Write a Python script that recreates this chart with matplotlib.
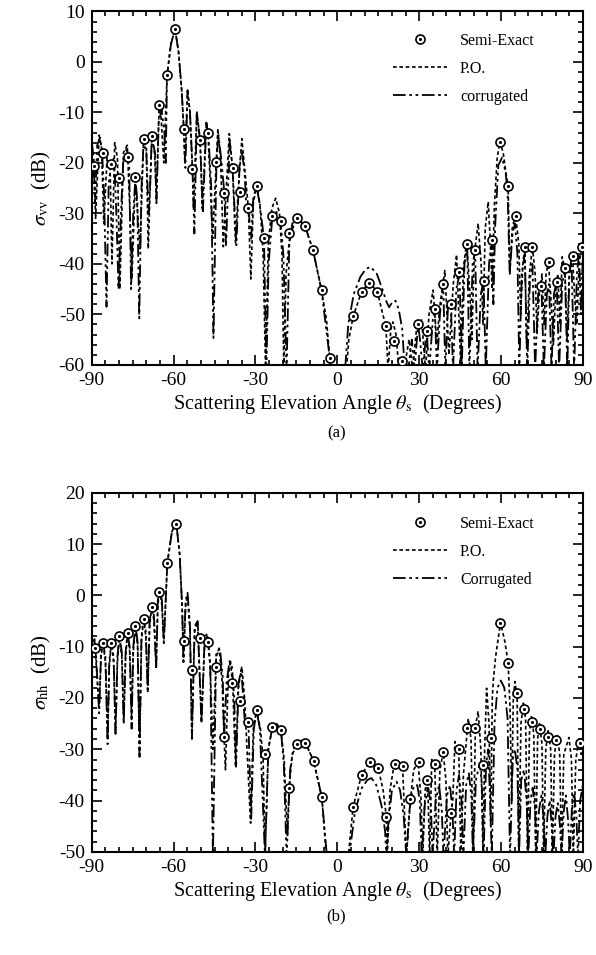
import matplotlib
matplotlib.use("Agg")
import matplotlib.pyplot as plt
from matplotlib.ticker import MultipleLocator

plt.rcParams['font.family'] = ['Liberation Serif', 'DejaVu Serif']
plt.rcParams['mathtext.fontset'] = 'stix'
plt.rcParams['axes.unicode_minus'] = False

# ---------------- panel (a): sigma_vv ----------------
semi_a_deg = [-89.2, -85.9, -83.0, -80.0, -76.9, -74.0, -71.0, -68.0, -65.3, -62.4,
              -59.5, -56.3, -53.1, -50.3, -47.4, -44.3, -41.4, -38.4, -35.5, -32.6,
              -29.6, -26.7, -23.8, -20.8, -17.8, -14.7, -11.8, -8.9, -5.8, -2.8,
              5.8, 8.9, 11.7, 14.7, 17.8, 20.7, 23.6, 29.6, 32.7, 35.7,
              38.8, 41.6, 44.6, 47.6, 50.5, 53.6, 56.6, 59.6, 62.6, 65.5,
              68.6, 71.5, 74.5, 77.4, 80.5, 83.4, 86.4, 89.5]
semi_a_db = [-20.6, -18.0, -20.3, -23.0, -18.8, -22.8, -15.2, -14.7, -8.6, -2.6,
             6.5, -13.3, -21.2, -15.5, -14.0, -19.9, -26.0, -21.1, -25.7, -29.0,
             -24.6, -34.8, -30.5, -31.6, -33.8, -31.0, -32.6, -37.3, -45.2, -58.6,
             -50.4, -45.5, -43.7, -45.5, -52.4, -55.2, -59.3, -51.9, -53.3, -49.0,
             -43.9, -47.9, -41.7, -36.1, -37.3, -43.3, -35.3, -15.8, -24.6, -30.5,
             -36.6, -36.6, -44.4, -39.6, -43.5, -40.9, -38.4, -36.6]

po_a_deg = [-90.0, -89.2, -88.6, -87.3, -86.4, -85.6, -84.4, -83.3, -82.6, -81.6,
            -80.6, -79.7, -78.4, -77.0, -76.0, -75.3, -74.0, -73.2, -72.3, -71.0,
            -70.0, -69.3, -68.0, -67.0, -66.3, -65.3, -64.6, -63.6, -62.4, -61.0,
            -59.5, -58.2, -57.0, -56.3, -55.9, -54.9, -54.0, -53.1, -52.7, -51.5,
            -50.3, -49.5, -48.0, -47.4, -46.5, -45.7, -43.8, -42.8, -41.8, -40.8,
            -39.6, -38.4, -37.3, -36.4, -35.0, -33.8, -32.6, -31.7, -30.8, -29.6,
            -28.4, -27.2, -26.3, -25.3, -24.0, -22.6, -21.2, -20.3, -19.6, -18.8,
            -17.5, -15.5, -14.0, -11.8, -8.9, -5.8, -4.0, -2.8, -2.2,
            3.2, 4.2, 5.8, 8.9, 11.7, 14.7, 16.2, 17.8, 18.6, 19.6,
            20.4, 21.5, 22.6, 23.6, 24.4, 26.3, 27.6, 29.0, 30.9, 32.3,
            33.6, 35.1, 36.5, 37.4, 39.4, 40.9, 42.5, 43.7, 45.2, 46.2,
            47.4, 48.5, 49.3, 50.2, 51.6, 52.7, 53.4, 54.2, 55.3, 56.2,
            56.7, 57.6, 58.6, 59.6, 60.8, 61.8, 62.6, 63.2, 64.1, 65.3,
            66.5, 67.2, 68.0, 68.7, 69.4, 70.4, 71.5, 72.5, 73.2, 74.0,
            75.0, 75.8, 76.5, 77.4, 78.4, 79.2, 80.1, 80.8, 81.6, 82.4,
            83.4, 84.2, 85.0, 86.2, 87.0, 87.8, 88.6, 89.5, 90.0]
po_a_db = [-24, -20.6, -31, -14.5, -17, -32, -19, -20.5, -40, -16,
           -19, -45, -18, -16.5, -30, -43, -22.8, -30, -37, -15.2,
           -17, -37, -14.7, -18, -27, -8.6, -11, -20, -2.6, 3.5,
           6.5, 2, -6, -13.3, -20, -5.8, -10, -21.2, -29, -9.8,
           -15.5, -29, -12, -14, -25, -35, -13.2, -19, -36.6, -26,
           -14.2, -21.1, -36, -26, -15.2, -22, -29, -43, -28, -24.6,
           -28, -38, -61, -36, -29, -27, -30, -38, -61, -42,
           -35, -31.5, -31, -32.6, -37.3, -45.2, -51, -58.6, -62,
           -62, -55, -50.4, -45.5, -43.7, -45.5, -49, -52.4, -61, -53,
           -51.5, -54, -61, -59.3, -61, -55, -61, -53, -51.1, -61,
           -50, -45.2, -56, -49, -41.3, -58, -44, -38.2, -60, -41,
           -35.5, -45, -55, -38, -32.0, -40, -52, -33, -27.7, -37,
           -45, -28, -19, -15.8, -18, -22, -24.6, -42, -33, -30.3,
           -36, -50, -40, -36.6, -56.7, -42, -36.6, -42, -54, -46,
           -42, -52, -42, -39.6, -48, -56, -45, -42, -52, -38.6,
           -41, -55, -42, -38.4, -47, -52, -40, -36.6, -37]

corr_a_deg = [-90.0, -89.3, -88.8, -88.0, -87.0, -86.2, -85.5, -84.6, -83.8, -82.8,
              -81.8, -81.0, -80.2, -79.3, -78.5, -77.2, -76.3, -75.6, -74.8, -74.0,
              -73.3, -72.6, -71.8, -71.0, -70.0, -69.2, -68.6, -68.0, -66.8, -66.3,
              -65.5, -64.4, -63.4, -62.9, -62.4, -61.0, -59.5, -58.2, -57.0, -56.3,
              -55.7, -54.9, -54.0, -53.1, -52.4, -51.5, -50.3, -49.3, -48.0, -47.2,
              -46.2, -45.4, -44.3, -43.6, -42.6, -41.4, -40.8, -39.5, -38.4, -37.0,
              -35.8, -35.0, -34.0, -33.4, -32.6, -31.6, -30.8, -29.6, -28.5, -26.9,
              -26.0, -25.2, -23.8, -22.5, -20.8, -19.8, -18.6, -17.6, -16.5, -14.4,
              -11.8, -8.9, -5.8, -2.8, -2.4,
              2.7, 4.0, 6.0, 8.5, 10.5, 12.2, 14.5, 16.5, 18.0, 19.0,
              20.2, 21.3, 22.5, 23.8, 24.7, 26.0, 27.3, 28.3, 29.6, 30.3,
              31.3, 32.7, 33.7, 35.0, 35.7, 36.5, 37.6, 38.8, 39.6, 40.6,
              41.6, 42.4, 43.6, 44.8, 45.6, 46.6, 47.6, 48.4, 49.6, 50.5,
              51.4, 52.6, 53.6, 54.4, 55.6, 56.6, 57.2, 57.8, 59.0, 60.4,
              61.7, 62.4, 63.2, 64.2, 65.1, 66.0, 66.7, 67.6, 68.7, 69.6,
              70.6, 71.5, 72.5, 73.6, 74.8, 75.7, 76.8, 77.6, 78.5, 79.4,
              80.4, 81.3, 82.4, 83.4, 84.3, 85.0, 85.8, 86.8, 87.8, 88.6,
              89.3, 90.0]
corr_a_db = [-16, -19, -28, -16.5, -15, -18, -26, -48.5, -24, -20,
             -19, -30, -45, -30, -20, -17, -20, -45, -30, -22.8,
             -28, -50.8, -25, -16, -18, -30, -24, -15, -18, -28,
             -12, -9.5, -14, -20, -2.6, 3.5, 6.5, 2, -6, -13.3,
             -21, -5.6, -10, -21.2, -34, -10, -15.5, -30, -12, -15,
             -25, -54.7, -19.9, -14.5, -19, -26, -36.6, -16, -21.1, -36.3,
             -20, -17.5, -22, -28, -29, -35, -27, -24.6, -28, -34.8,
             -61, -40, -30.5, -29.5, -31.6, -38, -61, -36, -32, -31,
             -32.6, -37.3, -45.2, -58.6, -62,
             -62, -52, -46, -42.5, -41, -40.6, -42, -45, -47.5, -48.6,
             -47.5, -47.3, -49, -53, -61, -61, -55, -61, -52, -55,
             -61, -53.3, -61, -51, -49, -61, -50, -44, -61, -47.8,
             -48, -61, -45, -42, -61, -40, -36.5, -61, -40, -37.5,
             -61, -46, -43.3, -61, -40, -35.3, -48, -33, -20.5, -18.9,
             -22, -26, -42, -34, -32, -38, -61, -42, -38, -61,
             -43, -40, -61, -46, -44.2, -61, -46, -44, -61, -46,
             -43.5, -61, -44, -41.2, -61, -43, -38.6, -61, -42, -38,
             -50, -38]

# ---------------- panel (b): sigma_hh ----------------
semi_b_deg = [-88.9, -85.9, -82.8, -80.0, -76.9, -74.0, -71.0, -68.0, -65.3, -62.3,
              -59.0, -56.3, -53.2, -50.3, -47.4, -44.5, -41.5, -38.6, -35.5, -32.6,
              -29.6, -26.6, -23.8, -20.7, -17.7, -14.7, -11.7, -8.7, -5.7,
              5.8, 8.9, 11.9, 15.0, 18.0, 21.1, 23.9, 26.8, 29.8, 32.7,
              35.7, 38.8, 41.8, 44.6, 47.6, 50.5, 53.4, 56.5, 59.6, 62.6,
              65.7, 68.5, 71.2, 74.2, 77.3, 80.3, 88.9]
semi_b_db = [-10.3, -9.2, -9.2, -7.9, -7.4, -5.9, -4.6, -2.2, 0.6, 6.4,
             14.0, -8.9, -14.5, -8.3, -9.0, -14.0, -27.7, -17.0, -20.5, -24.7,
             -22.4, -30.9, -25.7, -26.2, -37.6, -28.9, -28.7, -32.3, -39.3,
             -41.2, -35.0, -32.4, -33.7, -43.3, -32.9, -33.2, -39.7, -32.4, -35.9,
             -32.9, -30.6, -42.4, -30.0, -25.9, -25.9, -33.0, -27.8, -5.3, -13.1,
             -19.0, -22.2, -24.6, -26.1, -27.6, -28.1, -28.8]

po_b_deg = [-90.0, -89.0, -88.3, -87.3, -86.6, -85.9, -85.0, -84.2, -83.6, -82.8,
            -82.0, -81.3, -80.6, -79.9, -79.0, -78.3, -77.6, -76.9, -76.1, -75.4,
            -74.8, -74.0, -73.2, -72.5, -71.8, -71.0, -70.2, -69.5, -68.8, -68.0,
            -67.2, -66.4, -65.8, -65.1, -64.3, -63.6, -62.3, -60.6, -59.0, -57.8,
            -56.9, -56.4, -55.6, -54.9, -54.0, -53.3, -52.3, -51.2, -49.8, -48.6,
            -47.6, -46.6, -45.6, -44.4, -43.3, -42.2, -41.5, -41.0, -40.0, -39.2,
            -38.3, -37.3, -36.3, -35.0, -34.0, -31.8, -30.8, -29.6, -28.2, -27.2,
            -26.5, -25.3, -23.8, -22.3, -20.7, -19.5, -18.3, -17.7, -16.5, -14.7,
            -13.2, -11.7, -8.7, -5.7, -4.0,
            4.0, 5.8, 8.9, 11.9, 15.0, 16.8, 18.0, 18.3, 19.3, 20.8,
            23.9, 25.3, 26.8, 28.0, 29.6, 30.7, 31.3, 32.2, 32.7, 33.3,
            33.8, 34.6, 35.7, 36.6, 37.6, 38.8, 39.8, 40.5, 41.3, 41.8,
            42.3, 43.1, 44.5, 45.3, 46.2, 48.0, 49.0, 49.8, 50.6, 51.6,
            52.6, 53.4, 54.0, 54.7, 55.6, 56.2, 56.8, 57.2, 58.0, 59.8,
            61.4, 62.6, 63.3, 63.9, 64.5, 65.1, 65.9, 66.5, 67.3, 68.2,
            69.0, 69.7, 70.4, 71.1, 72.0, 72.7, 73.4, 74.1, 75.0, 75.6,
            76.4, 77.3, 78.2, 78.8, 79.6, 80.6, 81.5, 82.2, 83.0, 84.9,
            85.8, 86.5, 87.4, 88.6, 89.4, 90.0]
po_b_db = [-10, -8.5, -14, -22, -12, -9.2, -13, -28, -14, -9,
           -13, -26.8, -13, -8, -12, -24.6, -12, -7.4, -11, -24.2,
           -11, -5.9, -10, -31.1, -9, -4.4, -8, -18.4, -6, -2.2,
           -5, -13.9, -2, 1.0, -2, -9.3, 6.4, 12.5, 14.0, 8,
           -2, -12.9, -2, 0, -7, -27.8, -7, -5, -24.6, -9,
           -8, -14, -30, -12, -10.3, -17, -27.7, -34, -16, -12.6,
           -18, -33.4, -18, -13.9, -20, -44.4, -26, -22.4, -26, -32,
           -51, -30, -25.7, -25, -26.2, -32, -47, -37.6, -31, -28.9,
           -28.3, -28.7, -32.3, -39.3, -51,
           -51, -41.2, -35.0, -32.4, -33.7, -38, -43.3, -51, -38, -33,
           -33.2, -51, -39.7, -34, -32.4, -40, -51, -38, -35.9, -40,
           -51, -32, -33, -51, -34, -30.6, -36, -51, -45, -42.4,
           -40, -28.5, -30, -51, -35, -24, -28, -51, -25.5, -22.6,
           -30, -51, -30, -18.1, -25, -45, -20, -16.4, -12, -5.3,
           -9, -13.1, -22, -40, -20, -16.8, -20, -51, -25, -21,
           -24, -51, -27, -23.5, -27, -51, -28, -25, -29, -51,
           -30, -26.4, -30, -51, -31, -27, -31, -51, -31, -27.7,
           -32, -51, -32, -28, -31, -30]

corr_b_deg = [-90.0, -89.0, -88.3, -87.3, -86.6, -85.9, -85.0, -84.2, -83.6, -82.8,
              -82.0, -81.3, -80.6, -79.9, -79.0, -78.3, -77.6, -76.9, -76.1, -75.4,
              -74.8, -74.0, -73.2, -72.5, -71.8, -71.0, -70.2, -69.5, -68.8, -68.0,
              -67.2, -66.4, -65.8, -65.1, -64.3, -63.6, -62.3, -60.6, -59.0, -57.8,
              -56.9, -56.4, -55.6, -54.9, -54.0, -53.3, -52.3, -51.2, -49.8, -48.6,
              -47.6, -46.6, -45.6, -44.4, -43.0, -42.0, -41.5, -40.6, -39.5, -38.6,
              -37.8, -37.1, -36.2, -35.2, -34.0, -32.6, -31.6, -30.6, -29.6, -28.4,
              -26.5, -25.3, -23.8, -22.3, -20.7, -19.6, -18.6, -17.3, -16.2, -14.7,
              -13.2, -11.7, -8.7, -5.7, -3.8,
              4.3, 6.5, 9.0, 11.0, 12.5, 14.3, 16.2, 17.5, 18.0, 18.6,
              20.0, 21.7, 23.0, 24.3, 25.3, 26.4, 27.5, 28.4, 29.3, 30.2,
              30.9, 32.0, 33.3, 34.3, 34.9, 36.0, 37.3, 38.3, 38.9, 40.2,
              41.3, 42.2, 42.8, 43.7, 44.6, 45.5, 46.2, 47.2, 48.2, 49.1,
              49.7, 50.8, 52.2, 53.0, 53.6, 54.5, 55.3, 56.0, 56.6, 57.6,
              58.7, 59.9, 61.2, 62.4, 63.3, 64.3, 65.1, 66.0, 66.6, 67.4,
              68.4, 69.4, 70.0, 70.8, 71.6, 72.5, 73.0, 73.9, 74.8, 75.7,
              76.2, 77.0, 77.8, 78.6, 79.2, 80.0, 80.8, 81.6, 82.2, 83.0,
              83.8, 84.6, 85.2, 86.0, 86.8, 87.6, 88.2, 89.0, 90.0]
corr_b_db = [-9, -8.8, -13, -23, -11, -9.2, -12, -29, -13, -9,
             -12, -27, -12, -8, -11, -25, -11, -7.4, -10, -26,
             -10, -5.9, -9, -31.5, -8, -4.4, -7, -19, -5, -2.2,
             -4, -14.5, -1, 1.2, -1, -9.3, 6.4, 12.5, 14.0, 8,
             -2, -13, -1, 0.5, -6, -28, -6, -5, -25, -8,
             -7.5, -13, -51, -11, -10.5, -16, -27.7, -17, -12.8, -14,
             -20, -33.4, -17, -14.5, -24, -24.7, -44, -26, -22.4, -26,
             -51, -30, -25.7, -25, -26.2, -33, -51, -34, -30, -28.9,
             -28.3, -28.7, -32.3, -39.3, -51,
             -51, -42, -37.5, -36, -35.6, -37, -41, -46, -51, -45,
             -38, -36.3, -38, -43, -51, -42, -38, -37, -37, -40,
             -51, -41, -37.3, -41, -51, -40, -37, -42, -51, -39,
             -37, -42, -51, -38, -35, -40, -51, -37, -34.7, -39,
             -51, -36, -32.7, -37, -51, -33, -30, -40, -51, -25,
             -18, -16.6, -18, -24, -51, -32, -30, -34, -51, -36,
             -34, -40, -51, -40, -37.5, -42, -51, -42, -39, -44,
             -51, -43, -40, -45, -51, -43, -40.5, -45, -51, -42,
             -39, -44, -51, -41, -38.5, -43, -51, -40, -37]

PO_STYLE = (0, (2.2, 1.6))
CORR_STYLE = (0, (7, 2, 1.5, 2, 1.5, 2))


def draw_panel(ax, semi_x, semi_y, po_x, po_y, co_x, co_y, ylim, ylab, corr_label, leg_y):
    ax.plot(po_x, po_y, color='black', lw=1.2, linestyle=PO_STYLE, label='P.O.')
    ax.plot(co_x, co_y, color='black', lw=1.3, linestyle=CORR_STYLE, label=corr_label)
    ring, = ax.plot(semi_x, semi_y, 'o', ms=6.5, mfc='white', mec='black', mew=1.2, zorder=5)
    dot, = ax.plot(semi_x, semi_y, '.', ms=2.5, color='black', zorder=6)

    ax.set_xlim(-90, 90)
    ax.set_ylim(*ylim)
    ax.xaxis.set_major_locator(MultipleLocator(30))
    ax.xaxis.set_minor_locator(MultipleLocator(5))
    ax.yaxis.set_major_locator(MultipleLocator(10))
    ax.yaxis.set_minor_locator(MultipleLocator(2))
    ax.tick_params(which='both', direction='in', top=True, right=True, width=1.2)
    ax.tick_params(which='major', length=7, labelsize=14, pad=5)
    ax.tick_params(which='minor', length=3.5)
    for sp in ax.spines.values():
        sp.set_linewidth(1.5)

    ax.set_ylabel(ylab, fontsize=15, labelpad=4)
    ax.set_xlabel(r'Scattering Elevation Angle $\theta_{\rm s}$  (Degrees)', fontsize=14.5, labelpad=2)

    handles, labels = ax.get_legend_handles_labels()
    leg = ax.legend([(ring, dot)] + handles, ['Semi-Exact'] + labels,
                    loc='upper left', bbox_to_anchor=(0.6, leg_y), frameon=False,
                    fontsize=11.5, handlelength=3.4, handletextpad=0.8, labelspacing=0.75,
                    borderaxespad=0)
    return leg


fig = plt.figure(figsize=(5.96, 9.55), dpi=100)
ax_a = fig.add_axes([0.154, 0.618, 0.824, 0.370])
ax_b = fig.add_axes([0.154, 0.108, 0.824, 0.376])

draw_panel(ax_a, semi_a_deg, semi_a_db, po_a_deg, po_a_db, corr_a_deg, corr_a_db,
           (-60, 10), r'$\sigma_{\rm vv}$  (dB)', 'corrugated', 0.957)
draw_panel(ax_b, semi_b_deg, semi_b_db, po_b_deg, po_b_db, corr_b_deg, corr_b_db,
           (-50, 20), r'$\sigma_{\rm hh}$  (dB)', 'Corrugated', 0.953)

fig.text(0.564, 0.546, '(a)', ha='center', va='center', fontsize=12)
fig.text(0.564, 0.040, '(b)', ha='center', va='center', fontsize=12)

fig.savefig('out.png', dpi=100)
